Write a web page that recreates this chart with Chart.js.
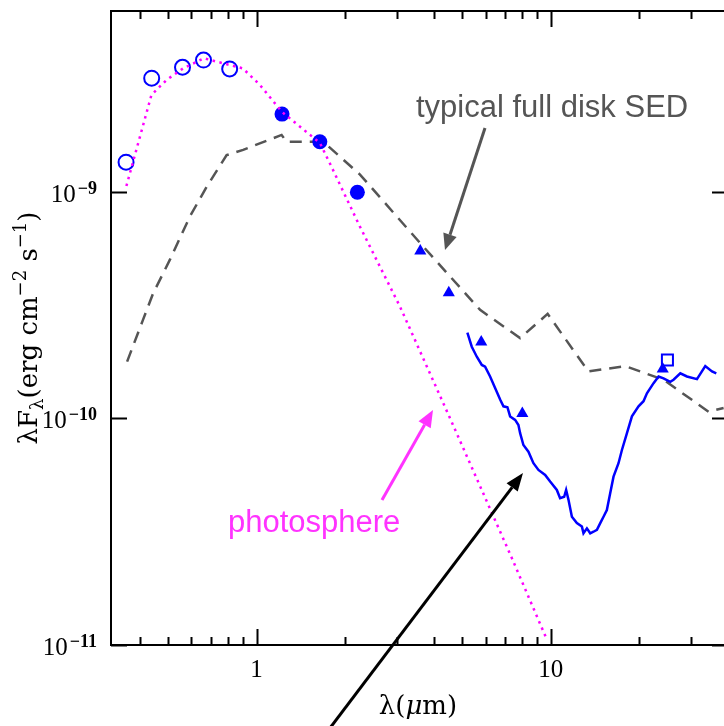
<!DOCTYPE html>
<html>
<head>
<meta charset="utf-8">
<script src="https://cdn.jsdelivr.net/npm/chart.js@4.4.1/dist/chart.umd.min.js"></script>
<style>
  html, body { margin: 0; padding: 0; overflow: hidden; background: #fff; }
  #wrap { width: 760px; height: 726px; }
</style>
</head>
<body>
<div id="wrap"><canvas id="sed" width="760" height="726"></canvas></div>
<script>
/* ---------- photometry (lambda in micron, lambda*F_lambda in erg cm^-2 s^-1) ---------- */
const openWave = [0.36, 0.44, 0.56, 0.66, 0.81];
const openFlux = [1.35e-9, 3.17e-9, 3.54e-9, 3.81e-9, 3.48e-9];

const fillWave = [1.22, 1.64, 2.2];
const fillFlux = [2.2e-9, 1.66e-9, 9.94e-10];

const triWave = [3.6, 4.5, 5.8, 8.0, 24];
const triFlux = [5.48e-10, 3.58e-10, 2.17e-10, 1.05e-10, 1.65e-10];

const sqWave = [24.9];
const sqFlux = [1.81e-10];

/* ---------- photosphere model ---------- */
const photoWave = [0.361, 0.439, 0.494, 0.563, 0.662, 0.731, 0.898, 1.026, 1.219, 1.642, 1.817, 2.246, 3.072, 4.545, 7.368, 9.714];
const photoFlux = [1.06e-9, 2.67e-9, 3.11e-9, 3.50e-9, 3.88e-9, 3.75e-9, 3.50e-9, 2.96e-9, 2.25e-9, 1.64e-9, 1.25e-9, 7.0e-10, 3.11e-10, 1.0e-10, 2.42e-11, 1.05e-11];

/* ---------- typical full disk SED ---------- */
const diskWave = [0.363, 0.411, 0.445, 0.507, 0.593, 0.676, 0.791, 0.900, 1.216, 1.265, 1.557, 1.730, 2.246, 3.687, 5.748, 7.862, 9.752, 13.42, 17.89, 24.15, 34.36, 38.65];
const diskFlux = [1.78e-10, 2.72e-10, 3.56e-10, 5.0e-10, 7.76e-10, 1.05e-9, 1.45e-9, 1.53e-9, 1.78e-9, 1.66e-9, 1.66e-9, 1.61e-9, 1.19e-9, 5.72e-10, 3.01e-10, 2.26e-10, 2.89e-10, 1.61e-10, 1.70e-10, 1.48e-10, 1.07e-10, 1.11e-10];

/* ---------- IRS spectrum ---------- */
const irsWave = [5.203, 5.386, 5.602, 5.826, 5.978, 6.216, 6.465, 6.724, 6.900, 7.119, 7.271, 7.561, 7.759, 7.863, 8.068, 8.391, 8.727, 9.075, 9.563, 9.945,
  10.48, 10.75, 11.10, 11.27, 11.48, 11.79, 12.26, 12.75, 12.91, 13.26, 13.61, 13.96, 14.34, 14.72, 15.10, 15.50, 15.91, 16.33, 16.98, 17.44,
  18.14, 18.86, 19.86, 20.65, 21.21, 22.34, 23.23, 24.15, 25.46, 26.12, 27.54, 29.01, 31.38, 33.48, 35.29, 36.50];
const irsFlux = [2.39e-10, 2.07e-10, 1.87e-10, 1.72e-10, 1.69e-10, 1.53e-10, 1.36e-10, 1.21e-10, 1.13e-10, 1.12e-10, 1.02e-10, 9.84e-11, 9.35e-11, 8.60e-11, 7.63e-11, 7.13e-11, 6.34e-11, 5.92e-11, 5.63e-11, 5.26e-11,
  4.83e-11, 4.44e-11, 4.51e-11, 4.83e-11, 4.37e-11, 3.68e-11, 3.45e-11, 3.33e-11, 3.11e-11, 3.27e-11, 3.11e-11, 3.16e-11, 3.22e-11, 3.45e-11, 3.68e-11, 3.94e-11, 4.67e-11, 5.53e-11, 6.34e-11, 7.25e-11,
  8.60e-11, 1.02e-10, 1.13e-10, 1.19e-10, 1.29e-10, 1.43e-10, 1.53e-10, 1.50e-10, 1.45e-10, 1.48e-10, 1.58e-10, 1.53e-10, 1.49e-10, 1.70e-10, 1.61e-10, 1.58e-10];

/* ---------- axes ---------- */
const xMajor = [1, 10];
const xLabels = ["1", "10"];
const xMinor = [0.4, 0.5, 0.6, 0.7, 0.8, 0.9, 2, 3, 4, 5, 6, 7, 8, 9, 20, 30];
const yMajor = [1e-11, 1e-10, 1e-9];
const yExps = ["\u221211", "\u221210", "\u22129"];

const pts = (xs, ys) => xs.map((x, i) => ({ x: x, y: ys[i] }));

const BLUE = "#0000ff";
const GREY = "#555555";
const MAGENTA = "#ff33ff";

/* ---------- frame, ticks, labels and annotations ---------- */
function arrow(ctx, x1, y1, x2, y2, color, len, half) {
  const a = Math.atan2(y2 - y1, x2 - x1);
  const bx = x2 - len * Math.cos(a), by = y2 - len * Math.sin(a);
  ctx.strokeStyle = color;
  ctx.fillStyle = color;
  ctx.lineWidth = 3;
  ctx.beginPath();
  ctx.moveTo(x1, y1);
  ctx.lineTo(bx, by);
  ctx.stroke();
  ctx.beginPath();
  ctx.moveTo(x2, y2);
  ctx.lineTo(bx + half * Math.sin(a), by - half * Math.cos(a));
  ctx.lineTo(bx - half * Math.sin(a), by + half * Math.cos(a));
  ctx.closePath();
  ctx.fill();
}

const framePlugin = {
  id: "frame",
  afterDraw(chart) {
    const ctx = chart.ctx;
    const a = chart.chartArea;
    const xs = chart.scales.x, ys = chart.scales.y;
    ctx.save();

    // box
    ctx.strokeStyle = "#000";
    ctx.lineWidth = 2;
    ctx.strokeRect(a.left, a.top, a.right - a.left, a.bottom - a.top);

    // inward ticks
    ctx.beginPath();
    xMajor.concat(xMinor).forEach(v => {
      const px = Math.round(xs.getPixelForValue(v)) + 0.5;
      const len = xMajor.includes(v) ? 16 : 8;
      ctx.moveTo(px, a.bottom); ctx.lineTo(px, a.bottom - len);
      ctx.moveTo(px, a.top); ctx.lineTo(px, a.top + len);
    });
    yMajor.forEach(v => {
      const py = Math.round(ys.getPixelForValue(v)) + 0.5;
      ctx.moveTo(a.left, py); ctx.lineTo(a.left + 16, py);
      ctx.moveTo(a.right, py); ctx.lineTo(a.right - 16, py);
    });
    ctx.stroke();

    // tick labels
    ctx.fillStyle = "#000";
    ctx.font = "25px 'Liberation Serif'";
    ctx.textAlign = "center";
    ctx.textBaseline = "alphabetic";
    xMajor.forEach((v, i) => {
      ctx.fillText(xLabels[i], xs.getPixelForValue(v), a.bottom + 32);
    });
    yMajor.forEach((v, i) => {
      const py = ys.getPixelForValue(v);
      ctx.textAlign = "right";
      ctx.font = "bold 18px 'Liberation Serif'";
      const w = ctx.measureText(yExps[i]).width;
      ctx.fillText(yExps[i], a.left - 14, py + 2);
      ctx.font = "25px 'Liberation Serif'";
      ctx.fillText("10", a.left - 16 - w, py + 10);
    });

    // x title
    ctx.textAlign = "left";
    const p1 = "\u03bb(", p3 = "m)";
    ctx.font = "26px 'DejaVu Serif'";
    const w1 = ctx.measureText(p1).width;
    ctx.font = "italic 26px 'DejaVu Serif'";
    const w2 = ctx.measureText("\u03bc").width;
    ctx.font = "26px 'DejaVu Serif'";
    const w3 = ctx.measureText(p3).width;
    let tx = 418 - (w1 + w2 + w3) / 2;
    const ty = 714;
    ctx.fillText(p1, tx, ty); tx += w1;
    ctx.font = "italic 26px 'DejaVu Serif'";
    ctx.fillText("\u03bc", tx, ty); tx += w2;
    ctx.font = "26px 'DejaVu Serif'";
    ctx.fillText(p3, tx, ty);

    // y title (rotated)
    const parts = [
      { t: "\u03bbF", f: "26px 'DejaVu Serif'", dy: 0 },
      { t: "\u03bb", f: "18px 'DejaVu Serif'", dy: 6 },
      { t: "(erg cm", f: "26px 'DejaVu Serif'", dy: 0 },
      { t: "\u22122", f: "18px 'DejaVu Serif'", dy: -11 },
      { t: " s", f: "26px 'DejaVu Serif'", dy: 0 },
      { t: "\u22121", f: "18px 'DejaVu Serif'", dy: -11 },
      { t: ")", f: "26px 'DejaVu Serif'", dy: 0 }
    ];
    let total = 0;
    parts.forEach(p => { ctx.font = p.f; p.w = ctx.measureText(p.t).width; total += p.w; });
    ctx.save();
    ctx.translate(37, 328 + total / 2);
    ctx.rotate(-Math.PI / 2);
    let ox = 0;
    parts.forEach(p => { ctx.font = p.f; ctx.fillText(p.t, ox, p.dy); ox += p.w; });
    ctx.restore();

    // annotations
    ctx.font = "31px 'Liberation Sans'";
    ctx.textAlign = "left";
    ctx.fillStyle = GREY;
    ctx.fillText("typical full disk SED", 416, 117);
    ctx.fillStyle = MAGENTA;
    ctx.fillText("photosphere", 228, 532);

    arrow(ctx, 485, 128, 445, 250, GREY, 16, 7);
    arrow(ctx, 382, 500, 433, 410, MAGENTA, 17, 7);
    arrow(ctx, 327, 732, 523, 473, "#000", 18, 7);

    ctx.restore();
  }
};

new Chart(document.getElementById("sed"), {
  type: "scatter",
  data: {
    datasets: [
      {
        data: pts(photoWave, photoFlux),
        showLine: true, pointRadius: 0, borderColor: "#ff00ff",
        borderWidth: 2.5, borderDash: [2.5, 4.5], tension: 0
      },
      {
        data: pts(openWave, openFlux),
        pointStyle: "circle", pointRadius: 7.5, pointBorderWidth: 2,
        pointBorderColor: BLUE, pointBackgroundColor: "rgba(0,0,0,0)"
      },
      {
        data: pts(fillWave, fillFlux),
        pointStyle: "circle", pointRadius: 7.5, pointBorderWidth: 0,
        pointBackgroundColor: BLUE
      },
      {
        data: pts(triWave, triFlux),
        pointStyle: "triangle", pointRadius: 7, pointBorderWidth: 0,
        pointBackgroundColor: BLUE
      },
      {
        data: pts(sqWave, sqFlux),
        pointStyle: "rect", pointRadius: 7.8, pointBorderWidth: 2,
        pointBorderColor: BLUE, pointBackgroundColor: "rgba(0,0,0,0)"
      },
      {
        data: pts(irsWave, irsFlux),
        showLine: true, pointRadius: 0, borderColor: BLUE,
        borderWidth: 2.5, tension: 0
      },
      {
        data: pts(diskWave, diskFlux),
        showLine: true, pointRadius: 0, borderColor: GREY,
        borderWidth: 2.5, borderDash: [12, 8], tension: 0
      }
    ]
  },
  options: {
    responsive: false,
    animation: false,
    devicePixelRatio: 1,
    layout: { padding: { left: 111, top: 11, right: 32, bottom: 81 } },
    plugins: { legend: { display: false }, tooltip: { enabled: false } },
    scales: {
      x: { type: "logarithmic", bounds: "data", min: 0.32, max: 40, display: false },
      y: { type: "logarithmic", bounds: "data", min: 1e-11, max: 6.27e-9, display: false }
    }
  },
  plugins: [framePlugin]
});
</script>
</body>
</html>
